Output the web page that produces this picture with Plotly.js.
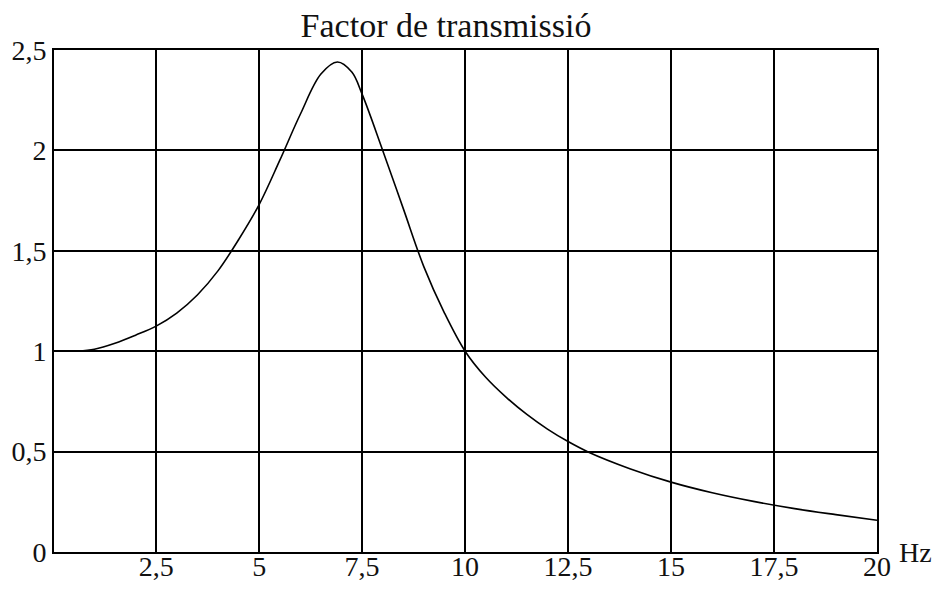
<!DOCTYPE html>
<html>
<head>
<meta charset="utf-8">
<script src="https://cdn.plot.ly/plotly-3.0.1.min.js"></script>
<style>html,body{margin:0;padding:0;background:#fff;}#chart{width:938px;height:590px;}</style>
</head>
<body>
<div id="chart"></div>
<script>
// Frequency (Hz)
var freq = [0.6, 1.0, 1.5, 2.0, 2.5, 3.0, 3.5, 4.0, 4.5, 5.0, 5.5, 6.0, 6.5, 6.9, 7.25, 7.5, 8.0, 8.5, 9.0, 9.5, 10.0, 10.5, 11.0, 11.5, 12.0, 12.5, 13.0, 14.0, 15.0, 16.0, 17.0, 18.0, 19.0, 20.0];
// Transmission factor
var factor = [1.00, 1.01, 1.04, 1.08, 1.125, 1.19, 1.28, 1.40, 1.555, 1.73, 1.95, 2.18, 2.38, 2.44, 2.39, 2.28, 2.00, 1.71, 1.42, 1.19, 1.00, 0.87, 0.77, 0.685, 0.612, 0.55, 0.497, 0.415, 0.348, 0.295, 0.252, 0.216, 0.186, 0.158];

var xTickVals = [2.5, 5, 7.5, 10, 12.5, 15, 17.5, 20];
var xTickText = ["2,5", "5", "7,5", "10", "12,5", "15", "17,5", "20"];
var yTickVals = [0, 0.5, 1, 1.5, 2, 2.5];
var yTickText = ["0", "0,5", "1", "1,5", "2", "2,5"];

var fontFam = "Liberation Serif, Times New Roman, serif";

var trace = {
  x: freq, y: factor, type: 'scatter', mode: 'lines',
  line: {color: '#000', width: 1.6, shape: 'spline', smoothing: 1},
  hoverinfo: 'skip'
};

var layout = {
  width: 938, height: 590,
  margin: {l: 54, r: 61, t: 50, b: 38, pad: 0},
  paper_bgcolor: '#fff', plot_bgcolor: '#fff',
  showlegend: false,
  font: {family: fontFam, size: 28, color: '#111'},
  title: {text: 'Factor de transmissió', font: {family: fontFam, size: 34, color: '#111'},
          xref: 'container', x: 0.4755, xanchor: 'center', yref: 'container', y: 0.958, yanchor: 'middle'},
  xaxis: {
    range: [0.02, 20], tickmode: 'array', tickvals: xTickVals, ticktext: xTickText,
    showgrid: true, gridcolor: '#000', gridwidth: 2,
    showline: true, linecolor: '#000', linewidth: 2, mirror: true,
    ticks: '', zeroline: false, fixedrange: true, ticklabelstandoff: -12,
    tickfont: {family: fontFam, size: 28, color: '#111'}
  },
  yaxis: {
    range: [0, 2.5], tickmode: 'array', tickvals: yTickVals, ticktext: yTickText,
    showgrid: true, gridcolor: '#000', gridwidth: 2,
    showline: true, linecolor: '#000', linewidth: 2, mirror: true,
    ticks: '', zeroline: false, fixedrange: true,
    tickfont: {family: fontFam, size: 28, color: '#111'}
  },
  annotations: [{
    text: 'Hz', xref: 'paper', yref: 'y', x: 1, y: 0, xanchor: 'left', yanchor: 'middle',
    xshift: 20, yshift: 0, showarrow: false,
    font: {family: fontFam, size: 28, color: '#111'}
  }]
};

Plotly.newPlot('chart', [trace], layout, {staticPlot: true, displayModeBar: false});
</script>
</body>
</html>
